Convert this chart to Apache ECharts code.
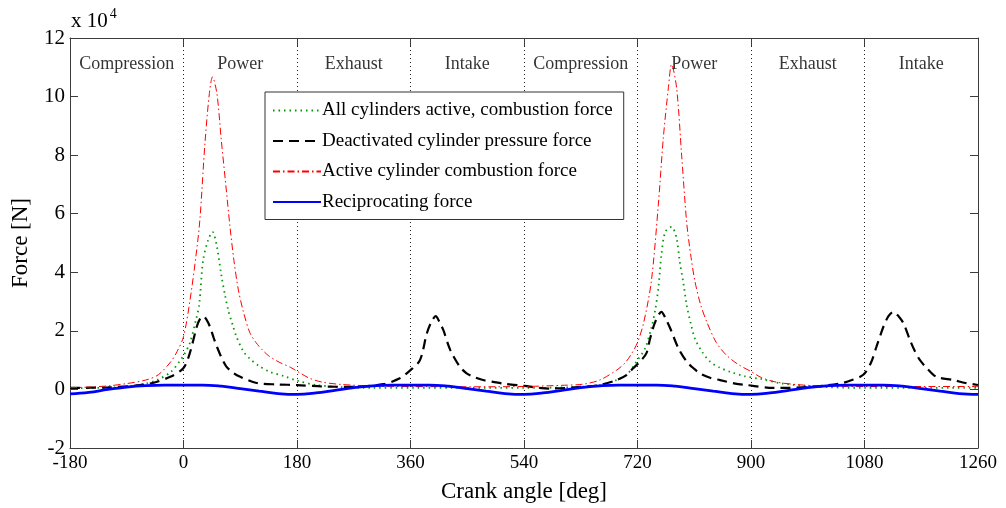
<!DOCTYPE html>
<html>
<head>
<meta charset="utf-8">
<script src="https://cdn.jsdelivr.net/npm/echarts@6/dist/echarts.min.js"></script>
<style>html,body{margin:0;padding:0;background:#fff}#c{width:1006px;height:508px}</style>
</head>
<body>
<div id="c"></div>
<script>
// ---- data (Force in units of 1e4 N) ----
const xTicks = [-180, 0, 180, 360, 540, 720, 900, 1080, 1260];
const yTicks = [-2, 0, 2, 4, 6, 8, 10, 12];

const phaseNames = ['Compression', 'Power', 'Exhaust', 'Intake', 'Compression', 'Power', 'Exhaust', 'Intake'];
const phaseCenters = [-90, 90, 270, 450, 630, 810, 990, 1170];

const allActiveAngles = [-180,-120,-90,-60,-42,-20,-5,0,10,20,25,31,39,46,53,60,66,71,78,84,95,105,120,137,160,180,211,250,300,540,620,660,687,703,712,720,732,742,748,753,758,764,774,782,787,793,798,805,811,822,835,850,867,890,917,950,1000,1080,1260];
const allActiveForce  = [0.04,0.06,0.1,0.2,0.32,0.6,1.0,1.15,1.58,2.4,2.9,4.4,5.1,5.38,4.87,3.9,3.2,2.7,2.2,1.8,1.3,1.05,0.8,0.6,0.45,0.3,0.15,0.08,0.05,0.05,0.08,0.15,0.32,0.5,0.75,1.0,1.4,2.1,2.7,3.45,4.6,5.38,5.55,5.15,4.36,3.6,2.88,2.2,1.74,1.3,0.95,0.75,0.6,0.45,0.35,0.2,0.1,0.05,0.05];

const deactAngles = [-180,-120,-80,-53,-21,0,10,21,26,31,36,42,48,53,60,68,80,90,116,150,180,220,270,317,343,360,375,386,393,400,406,412,423,438,449,460,475,491,507,540,581,634,660,687,703,713,724,734,740,748,758,765,772,785,798,810,819,835,851,875,893,935,990,1041,1060,1078,1090,1099,1110,1118,1126,1134,1142,1152,1160,1168,1180,1194,1221,1240,1260];
const deactForce  = [0.05,0.07,0.12,0.2,0.43,0.73,1.24,2.14,2.4,2.5,2.4,2.14,1.75,1.46,1.1,0.78,0.55,0.43,0.22,0.17,0.15,0.1,0.09,0.18,0.38,0.66,1.0,1.92,2.3,2.5,2.3,2.03,1.35,0.78,0.55,0.43,0.32,0.26,0.2,0.12,0.03,0.09,0.15,0.32,0.5,0.72,0.95,1.23,1.74,2.3,2.65,2.4,2.08,1.4,0.95,0.7,0.55,0.4,0.32,0.2,0.15,0.05,0.08,0.2,0.32,0.5,0.9,1.46,2.14,2.5,2.65,2.5,2.25,1.69,1.3,1.0,0.7,0.43,0.32,0.22,0.15];

const activeAngles = [-180,-150,-120,-90,-60,-40,-20,-10,0,10,20,26,34,41,46,53,60,67,74,80,87,95,105,115,125,135,150,170,182,200,220,250,300,360,450,540,600,634,660,687,700,710,720,730,742,753,761,769,774,782,790,798,805,811,820,830,845,861,880,901,917,940,970,1000,1080,1170,1260];
const activeForce  = [0.06,0.08,0.12,0.2,0.32,0.5,0.95,1.3,1.8,3.0,4.6,5.8,8.4,10.1,10.67,10.1,8.5,7.0,5.5,4.4,3.4,2.65,1.95,1.6,1.35,1.15,0.95,0.75,0.6,0.38,0.25,0.17,0.12,0.1,0.09,0.1,0.14,0.18,0.32,0.66,0.9,1.2,1.6,2.3,3.7,6.3,8.6,10.3,11.1,10.3,8.0,5.7,4.5,3.7,2.9,2.3,1.6,1.17,0.85,0.6,0.4,0.25,0.17,0.13,0.1,0.1,0.1];

const recipAngles = [-180,-150,-120,-90,-60,-30,0,30,60,90,120,150,180,210,240,270,300,330,360,390,420,450,480,510,540,570,600,630,660,690,720,750,780,810,840,870,900,930,960,990,1020,1050,1080,1110,1140,1170,1200,1230,1260];
const recipForce  = [-0.15,-0.1,0.0,0.08,0.13,0.15,0.15,0.15,0.11,0.03,-0.06,-0.14,-0.17,-0.12,-0.03,0.06,0.12,0.15,0.15,0.15,0.11,0.03,-0.06,-0.14,-0.17,-0.12,-0.03,0.06,0.12,0.15,0.15,0.15,0.11,0.03,-0.06,-0.14,-0.17,-0.12,-0.03,0.06,0.12,0.15,0.15,0.15,0.11,0.03,-0.06,-0.14,-0.17];

const seriesNames = ['All cylinders active, combustion force', 'Deactivated cylinder pressure force', 'Active cylinder combustion force', 'Reciprocating force'];

// ---- chart ----
const FONT = '"Liberation Serif", "Times New Roman", serif';
const pairs = (xs, ys) => xs.map((x, i) => [x, ys[i]]);
const axisCol = '#3c3c3c';

const chart = echarts.init(document.getElementById('c'), null, {renderer: 'canvas'});
const baseX = {
  type: 'value', min: xTicks[0], max: xTicks[xTicks.length - 1], interval: 180,
  axisLine: {show: true, onZero: false, lineStyle: {color: axisCol, width: 1}},
  axisTick: {show: true, inside: true, length: 8, lineStyle: {color: axisCol}},
};
const baseY = {
  type: 'value', min: yTicks[0], max: yTicks[yTicks.length - 1], interval: 2,
  axisLine: {show: true, onZero: false, lineStyle: {color: axisCol, width: 1}},
  axisTick: {show: true, inside: true, length: 8, lineStyle: {color: axisCol}},
  splitLine: {show: false}
};

chart.setOption({
  animation: false,
  backgroundColor: '#fff',
  textStyle: {fontFamily: FONT},
  grid: {left: 70, right: 28, top: 38, bottom: 60, containLabel: false},
  title: {
    text: 'x 10{s|4}', left: 66, top: 2,
    textStyle: {fontFamily: FONT, fontSize: 21, fontWeight: 'normal', color: '#000',
      rich: {s: {fontFamily: FONT, fontSize: 14, verticalAlign: 'top', padding: [0, 0, 14, 2], color: '#000'}}}
  },
  legend: {
    orient: 'vertical', left: 265, top: 92,
    data: seriesNames,
    backgroundColor: '#fff', borderColor: '#333', borderWidth: 1,
    padding: [9, 11, 8, 7], itemGap: 11.5, itemWidth: 48, itemHeight: 14,
    itemStyle: {opacity: 0},
    textStyle: {fontFamily: FONT, fontSize: 19, color: '#000', padding: [0, 0, 0, -4]},
    selectedMode: false
  },
  xAxis: [
    Object.assign({}, baseX, {
      position: 'bottom',
      name: 'Crank angle [deg]', nameLocation: 'middle', nameGap: 32,
      nameTextStyle: {fontFamily: FONT, fontSize: 23, color: '#000'},
      axisLabel: {fontFamily: FONT, fontSize: 19, color: '#000', margin: 6, formatter: v => String(v)},
      splitLine: {show: true, lineStyle: {color: '#222', type: [1, 3], width: 1}}
    }),
    Object.assign({}, baseX, {position: 'top', axisLabel: {show: false}, splitLine: {show: false}})
  ],
  yAxis: [
    Object.assign({}, baseY, {
      position: 'left',
      name: 'Force [N]', nameLocation: 'middle', nameGap: 38,
      nameTextStyle: {fontFamily: FONT, fontSize: 23, color: '#000'},
      axisLabel: {fontFamily: FONT, fontSize: 21, color: '#000', margin: 5, formatter: v => String(v)}
    }),
    Object.assign({}, baseY, {position: 'right', axisLabel: {show: false}})
  ],
  series: [
    {
      name: seriesNames[0], type: 'line', data: pairs(allActiveAngles, allActiveForce),
      symbol: 'none', smooth: 0.3, color: '#009900',
      lineStyle: {color: '#009900', width: 1.8, type: [1.5, 4]}, z: 3
    },
    {
      name: seriesNames[1], type: 'line', data: pairs(deactAngles, deactForce),
      symbol: 'none', smooth: 0.3, color: '#000',
      lineStyle: {color: '#000', width: 2.2, type: [10, 6]}, z: 4
    },
    {
      name: seriesNames[2], type: 'line', data: pairs(activeAngles, activeForce),
      symbol: 'none', smooth: 0.3, color: '#ff0000',
      lineStyle: {color: '#ff0000', width: 1, type: [7, 3, 1.5, 3]}, z: 5
    },
    {
      name: seriesNames[3], type: 'line', data: pairs(recipAngles, recipForce),
      symbol: 'none', smooth: 0.4, color: '#0000ff',
      lineStyle: {color: '#0000ff', width: 2.8, type: 'solid'}, z: 6
    },
    {
      name: 'phases', type: 'scatter', symbolSize: 0, silent: true,
      data: phaseCenters.map((c, i) => ({value: [c, 11.1], name: phaseNames[i]})),
      label: {show: true, position: 'inside', formatter: p => p.name,
        fontFamily: FONT, fontSize: 18, color: '#000'},
      z: 7
    }
  ]
});
</script>
</body>
</html>
